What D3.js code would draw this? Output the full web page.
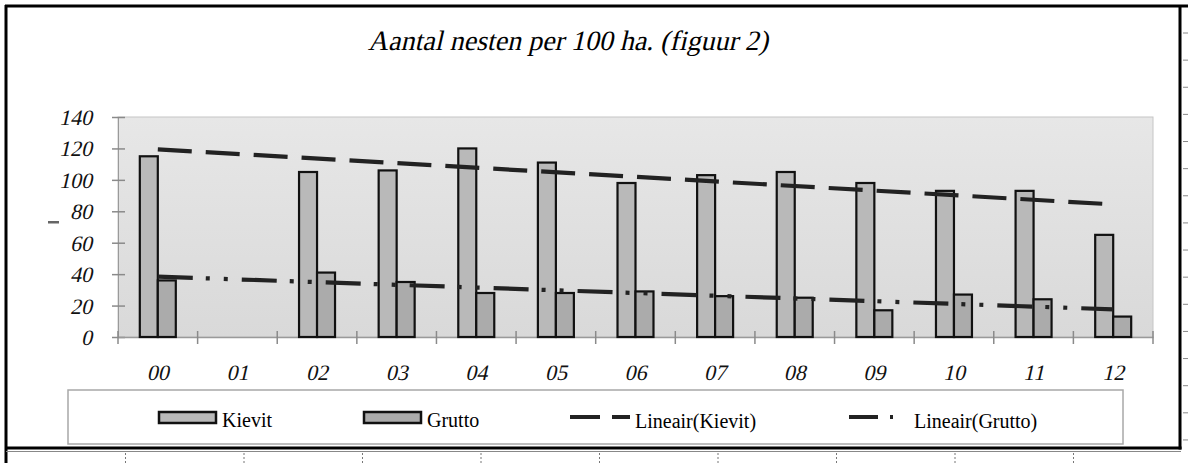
<!DOCTYPE html>
<html>
<head>
<meta charset="utf-8">
<script src="https://cdn.jsdelivr.net/npm/d3@7"></script>
<style>
  body { margin: 0; background: #fff; }
  svg { display: block; font-family: "Liberation Serif", "Times New Roman", serif; }
</style>
</head>
<body>
<svg id="chart" width="1188" height="463"></svg>
<script>
// values
const years = ["00", "01", "02", "03", "04", "05", "06", "07", "08", "09", "10", "11", "12"];
const kievit = [115, null, 105, 106, 120, 111, 98, 103, 105, 98, 93, 93, 65];
const grutto = [36, null, 41, 35, 28, 28, 29, 26, 25, 17, 27, 24, 13];
// trend lines, start (00) and end (12)
const kievitTrend = [119.4, 84.4];
const gruttoTrend = [38.4, 17.6];
const yTicks = [0, 20, 40, 60, 80, 100, 120, 140];
const seriesNames = ["Kievit", "Grutto"];
const trendNames = ["Lineair(Kievit)", "Lineair(Grutto)"];
const title = "Aantal nesten per 100 ha. (figuur 2)";

const fills = { Kievit: "#b9b9b9", Grutto: "#ababab" };
const dashes = { kievit: "34,14", grutto: "35,13,4,14,4,14" };
const slant = "skewX(-13)"; // serif italic look, the italic face is not installed

const svg = d3.select("#chart");
const plot = { left: 118, right: 1153, top: 117, bottom: 337 };

const x = d3.scaleBand().domain(years).range([plot.left, plot.right]);
const y = d3.scaleLinear().domain([0, 140]).range([plot.bottom, plot.top]);
const bw = x.bandwidth();
const sub = d3.scaleBand().domain(seriesNames).range([bw * 0.274, bw * 0.726]);

// plot background gradient
const grad = svg.append("defs").append("linearGradient")
  .attr("id", "bg").attr("x1", 0).attr("y1", 0).attr("x2", 0).attr("y2", 1);
grad.append("stop").attr("offset", "0%").attr("stop-color", "#e7e7e7");
grad.append("stop").attr("offset", "100%").attr("stop-color", "#d9d9d9");

svg.append("rect")
  .attr("x", plot.left).attr("y", plot.top)
  .attr("width", plot.right - plot.left).attr("height", plot.bottom - plot.top)
  .attr("fill", "url(#bg)")
  .attr("stroke", "#c6c6c6").attr("stroke-width", 1);

// title
svg.append("text")
  .attr("transform", `translate(568,50) ${slant}`)
  .attr("text-anchor", "middle")
  .attr("font-size", 28)
  .text(title);

// y axis
const yAxis = svg.append("g")
  .attr("transform", `translate(${plot.left},0)`)
  .call(d3.axisLeft(y).tickValues(yTicks).tickSize(6).tickFormat(d3.format("d")));
yAxis.select(".domain").attr("stroke", "#9a9a9a");
yAxis.selectAll(".tick line").attr("x1", -6).attr("x2", 7).attr("stroke", "#8a8a8a").attr("stroke-width", 1.5);
yAxis.selectAll(".tick text")
  .attr("x", null).attr("dy", null)
  .attr("transform", `translate(-26,7.5) ${slant}`)
  .attr("font-size", 22)
  .attr("font-family", "Liberation Serif")
  .attr("fill", "#111");

// small y axis mark
svg.append("rect")
  .attr("x", 48).attr("y", 221).attr("width", 11).attr("height", 2.5)
  .attr("fill", "#666");

// x axis labels
const xAxis = svg.append("g")
  .attr("transform", `translate(0,${plot.bottom})`)
  .call(d3.axisBottom(x).tickSize(0));
xAxis.select(".domain").attr("stroke", "#9a9a9a").attr("stroke-width", 1.5);
xAxis.selectAll(".tick text")
  .attr("y", null).attr("dy", null)
  .attr("transform", `translate(0,43) ${slant}`)
  .attr("font-size", 22)
  .attr("font-family", "Liberation Serif")
  .attr("fill", "#111");

// category boundary ticks
svg.append("g")
  .selectAll("line")
  .data(years.concat(["end"]))
  .join("line")
  .attr("x1", (d) => (d === "end" ? plot.right : x(d)))
  .attr("x2", (d) => (d === "end" ? plot.right : x(d)))
  .attr("y1", plot.bottom - 6).attr("y2", plot.bottom + 7)
  .attr("stroke", "#8a8a8a").attr("stroke-width", 1.5);

// bars
const rows = years.map((yr, i) => ({ year: yr, Kievit: kievit[i], Grutto: grutto[i] }));
svg.append("g")
  .selectAll("g")
  .data(rows)
  .join("g")
  .attr("transform", (d) => `translate(${x(d.year)},0)`)
  .selectAll("rect")
  .data((d) => seriesNames.filter((s) => d[s] != null).map((s) => ({ key: s, value: d[s] })))
  .join("rect")
  .attr("x", (d) => sub(d.key))
  .attr("width", sub.bandwidth())
  .attr("y", (d) => y(d.value))
  .attr("height", (d) => y(0) - y(d.value))
  .attr("fill", (d) => fills[d.key])
  .attr("stroke", "#111")
  .attr("stroke-width", 2.2);

// trend lines
const line = d3.line()
  .x((d) => x(d.year) + bw / 2)
  .y((d) => y(d.v));
const first = years[0];
const last = years[years.length - 1];

svg.append("path")
  .datum([{ year: first, v: kievitTrend[0] }, { year: last, v: kievitTrend[1] }])
  .attr("d", line)
  .attr("fill", "none")
  .attr("stroke", "#222").attr("stroke-width", 4.2)
  .attr("stroke-dasharray", dashes.kievit);

svg.append("path")
  .datum([{ year: first, v: gruttoTrend[0] }, { year: last, v: gruttoTrend[1] }])
  .attr("d", line)
  .attr("fill", "none")
  .attr("stroke", "#222").attr("stroke-width", 4.2)
  .attr("stroke-dasharray", dashes.grutto);

// legend
const legend = svg.append("g");
legend.append("rect")
  .attr("x", 68).attr("y", 390).attr("width", 1055).attr("height", 54)
  .attr("fill", "#fff").attr("stroke", "#a8a8a8").attr("stroke-width", 1.5);

const swatchX = [159, 364];
seriesNames.forEach((s, i) => {
  legend.append("rect")
    .attr("x", swatchX[i]).attr("y", 412).attr("width", 57).attr("height", 11)
    .attr("fill", fills[s]).attr("stroke", "#111").attr("stroke-width", 2.5);
  legend.append("text")
    .attr("x", swatchX[i] + 63).attr("y", 427)
    .attr("font-size", 20)
    .text(s);
});

legend.append("line")
  .attr("x1", 570).attr("x2", 630).attr("y1", 417).attr("y2", 417)
  .attr("stroke", "#222").attr("stroke-width", 4.2)
  .attr("stroke-dasharray", "30,12");
legend.append("text").attr("x", 635).attr("y", 428).attr("font-size", 20).text(trendNames[0]);

legend.append("line")
  .attr("x1", 849).attr("x2", 895).attr("y1", 417).attr("y2", 417)
  .attr("stroke", "#222").attr("stroke-width", 4.2)
  .attr("stroke-dasharray", "29,12,3,100");
legend.append("text").attr("x", 914).attr("y", 428).attr("font-size", 20).text(trendNames[1]);

// page frame
const frame = svg.append("g").attr("stroke", "#000").attr("stroke-width", 3);
frame.append("line").attr("x1", 5).attr("x2", 1188).attr("y1", 6).attr("y2", 6);
frame.append("line").attr("x1", 6).attr("x2", 6).attr("y1", 5).attr("y2", 463);
frame.append("line").attr("x1", 1180).attr("x2", 1180).attr("y1", 5).attr("y2", 449.5);
frame.append("line").attr("x1", 5).attr("x2", 1181.5).attr("y1", 448).attr("y2", 448);
svg.append("line")
  .attr("x1", 6).attr("x2", 1181).attr("y1", 451.5).attr("y2", 451.5)
  .attr("stroke", "#888").attr("stroke-width", 1);

// ruler marks outside the frame
svg.append("g")
  .selectAll("line")
  .data(d3.range(9))
  .join("line")
  .attr("x1", (k) => 125.5 + k * 118.5).attr("x2", (k) => 125.5 + k * 118.5)
  .attr("y1", 453).attr("y2", 463)
  .attr("stroke", "#777").attr("stroke-width", 1).attr("stroke-dasharray", "2,2");
svg.append("g")
  .selectAll("line")
  .data(d3.range(16))
  .join("line")
  .attr("x1", 1183).attr("x2", 1188)
  .attr("y1", (k) => 33 + k * 27.13).attr("y2", (k) => 33 + k * 27.13)
  .attr("stroke", "#888").attr("stroke-width", 1);
</script>
</body>
</html>
